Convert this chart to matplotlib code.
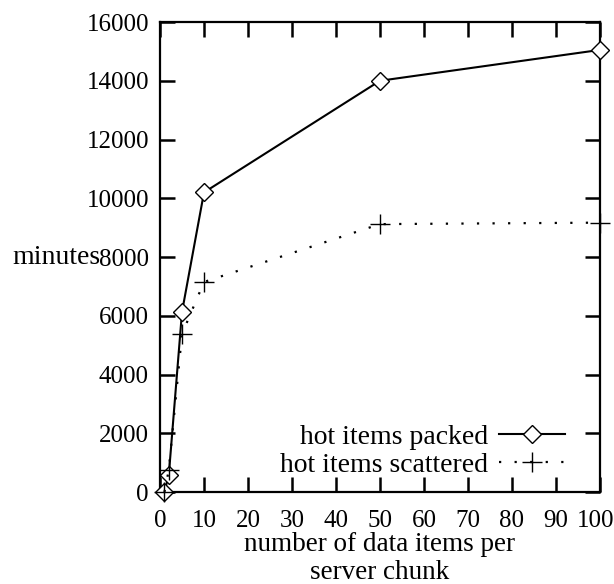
import matplotlib
matplotlib.use("Agg")
import matplotlib.pyplot as plt
import matplotlib.transforms as mtransforms

# data
chunk_sizes = [1, 2, 5, 10, 50, 100]
packed_minutes = [0, 580, 6130, 10200, 14000, 15050]
scattered_minutes = [0, 750, 5380, 7150, 9120, 9170]

x_ticks = list(range(0, 101, 10))
y_ticks = list(range(0, 16001, 2000))

plt.rcParams["font.family"] = ["Liberation Serif", "DejaVu Serif"]

fig = plt.figure(figsize=(6.14, 5.84), dpi=100)
ax = fig.add_axes([0.2606, 0.1575, 0.7164, 0.8048])

ax.plot(chunk_sizes, packed_minutes, color="black", linewidth=1.5,
        marker="D", markersize=9, markerfacecolor="white",
        markeredgecolor="black", markeredgewidth=1.0,
        label="hot items packed", clip_on=False, zorder=3)
ax.plot(chunk_sizes, scattered_minutes, color="black", linewidth=1.6,
        linestyle=(0, (1, 6)), marker="+", markersize=14,
        markeredgewidth=1.0, label="hot items scattered",
        clip_on=False, zorder=3)

ax.set_xlim(0, 100)
ax.set_ylim(0, 16000)
ax.set_xticks(x_ticks)
ax.set_yticks(y_ticks)
ax.tick_params(direction="in", length=11, width=1.8, top=True, right=True,
               labelsize=18)
ax.tick_params(axis="x", pad=13)
ax.tick_params(axis="y", pad=8)
for spine in ax.spines.values():
    spine.set_linewidth(1.6)

# keep the last x tick label inside the canvas
last_label = ax.get_xticklabels()[-1]
last_label.set_transform(last_label.get_transform() +
                         mtransforms.ScaledTranslation(-4 / 100, 0, fig.dpi_scale_trans))

ax.set_xlabel("number of data items per\nserver chunk", fontsize=19.5,
              linespacing=1.15, labelpad=0)
ax.set_ylabel("minutes", rotation=0, fontsize=20, ha="center", va="center")
ax.yaxis.set_label_coords(-0.236, 0.5)

ax.legend(loc="lower right", bbox_to_anchor=(0.92, 0.03), frameon=False,
          markerfirst=False, handlelength=2.35, fontsize=20,
          labelspacing=0.1, handletextpad=0.4, borderaxespad=0.0,
          borderpad=0.0)

fig.savefig("out.png", dpi=100)
